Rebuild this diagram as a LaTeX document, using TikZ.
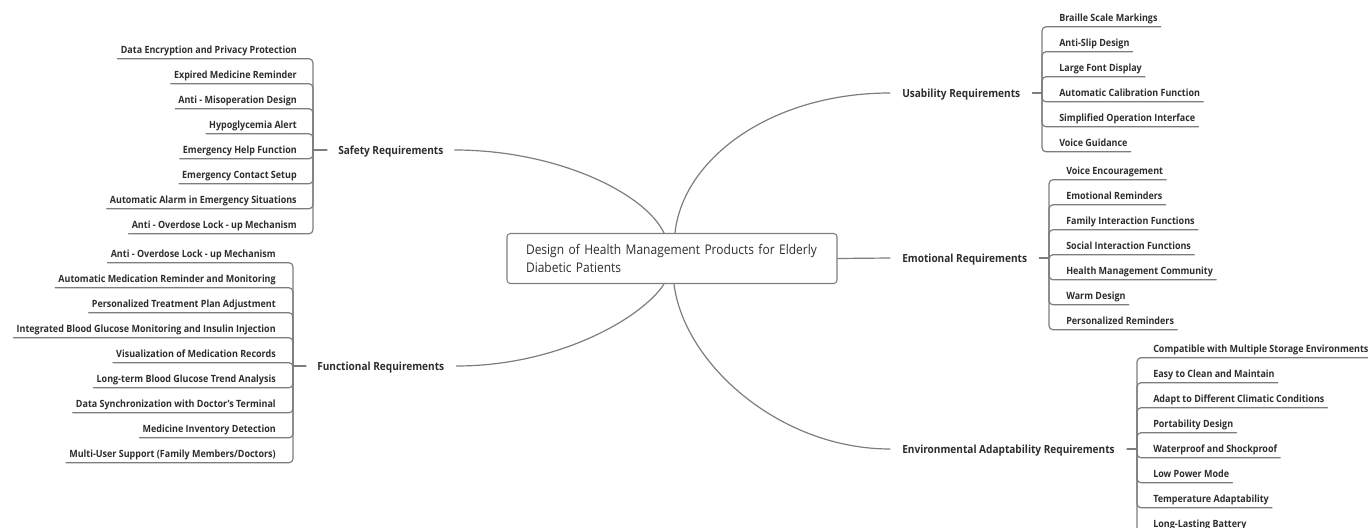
\documentclass[tikz,border=0pt]{standalone}
\usepackage{fontspec}
\setmainfont{Open Sans}[FakeStretch=0.9]
\definecolor{txt}{RGB}{45,45,45}
\definecolor{ln}{RGB}{125,125,125}
\begin{document}
\begin{tikzpicture}[x=0.75pt, y=-0.75pt, line join=round, line cap=round,
	branch/.style={draw=ln, line width=0.9pt},
	leaf/.style={font=\fontsize{7.48}{8}\selectfont\bfseries, text=txt, inner xsep=2.25pt, inner ysep=3.725pt, text height=6.5pt, text depth=0.3pt},
	topic/.style={font=\fontsize{8.4}{10}\selectfont\bfseries, text=txt, inner sep=0pt, text height=6.4pt, text depth=0pt},
	rootbox/.style={draw=ln, line width=0.8pt, rounded corners=2.5pt, minimum width=247.5pt, minimum height=37.5pt, text width=219pt, align=left, font=\fontsize{10}{13.5}\selectfont, text=txt}]
	\clip (0,0) rectangle (1368,528);
	\node[rootbox] (root) at (672,258.5) {Design of Health Management Products for Elderly\\Diabetic Patients};
	\node[topic, anchor=west] (safety) at (338,150) {Safety Requirements};
	\node[topic, anchor=west] (func) at (317,366) {Functional Requirements};
	\node[topic, anchor=west] (usab) at (902,93) {Usability Requirements};
	\node[topic, anchor=west] (emo) at (902,258) {Emotional Requirements};
	\node[topic, anchor=west] (env) at (902,449) {Environmental Adaptability Requirements};
	\path 
	(313,150) coordinate (sbar)
	(293,366) coordinate (fbar)
	(1042,93) coordinate (ubar)
	(1049,258) coordinate (ebar)
	(1137,449) coordinate (vbar)
	;
	% main branches
	\draw[branch] ([xshift=8.25pt]safety.east) .. controls +(102,0) and +(-19,-40) .. ([xshift=-6pt]root.north);
	\draw[branch] ([xshift=9pt]func.east) .. controls +(102,0) and +(-22,34) .. ([xshift=-6pt]root.south);
	\draw[branch] ([xshift=2.25pt]root.north) .. controls +(8,-75) and +(-118,0) .. ([xshift=-9pt]usab.west);
	\draw[branch] ([xshift=1.5pt]root.south) .. controls +(10,80) and +(-110,0) .. ([xshift=-9pt]env.west);
	\draw[branch] (root.east) -- ([xshift=-9pt]emo.west);
	\draw[branch] (sbar) -- ([xshift=-8.25pt]safety.west);
	\draw[branch] (fbar) -- ([xshift=-8.25pt]func.west);
	\draw[branch] ([xshift=9pt]usab.east) -- (ubar);
	\draw[branch] ([xshift=9pt]emo.east) -- (ebar);
	\draw[branch] ([xshift=9pt]env.east) -- (vbar);
	% safety
	\foreach \t [count=\i] in {Data Encryption and Privacy Protection, Expired Medicine Reminder, Anti - Misoperation Design, Hypoglycemia Alert, Emergency Help Function, Emergency Contact Setup, Automatic Alarm in Emergency Situations, Anti - Overdose Lock - up Mechanism}{
		\node[leaf, anchor=east] (s\i) at (300,24+25*\i) {\t};
		\draw[branch, rounded corners=3pt] (s\i.south west) -- (s\i.south -| sbar) -- (sbar);
	}
	% functional
	\foreach \t [count=\i] in {Anti - Overdose Lock - up Mechanism, Automatic Medication Reminder and Monitoring, Personalized Treatment Plan Adjustment, Integrated Blood Glucose Monitoring and Insulin Injection, Visualization of Medication Records, Long-term Blood Glucose Trend Analysis, Data Synchronization with Doctor's Terminal, Medicine Inventory Detection, Multi-User Support (Family Members/Doctors)}{
		\node[leaf, anchor=east] (f\i) at (279,228+25*\i) {\t};
		\draw[branch, rounded corners=3pt] (f\i.south west) -- (f\i.south -| fbar) -- (fbar);
	}
	% usability
	\foreach \t [count=\i] in {Braille Scale Markings, Anti-Slip Design, Large Font Display, Automatic Calibration Function, Simplified Operation Interface, Voice Guidance}{
		\node[leaf, anchor=west] (u\i) at (1056,-8+25*\i) {\t};
		\draw[branch, rounded corners=3pt] (u\i.south east) -- (u\i.south -| ubar) -- (ubar);
	}
	% emotional
	\foreach \t [count=\i] in {Voice Encouragement, Emotional Reminders, Family Interaction Functions, Social Interaction Functions, Health Management Community, Warm Design, Personalized Reminders}{
		\node[leaf, anchor=west] (e\i) at (1063,145+25*\i) {\t};
		\draw[branch, rounded corners=3pt] (e\i.south east) -- (e\i.south -| ebar) -- (ebar);
	}
	% environmental
	\foreach \t [count=\i] in {Compatible with Multiple Storage Environments, Easy to Clean and Maintain, Adapt to Different Climatic Conditions, Portability Design, Waterproof and Shockproof, Low Power Mode, Temperature Adaptability, Long-Lasting Battery}{
		\node[leaf, anchor=west] (v\i) at (1150,323+25*\i) {\t};
		\draw[branch, rounded corners=3pt] (v\i.south east) -- (v\i.south -| vbar) -- (vbar);
	}
\end{tikzpicture}
\end{document}
